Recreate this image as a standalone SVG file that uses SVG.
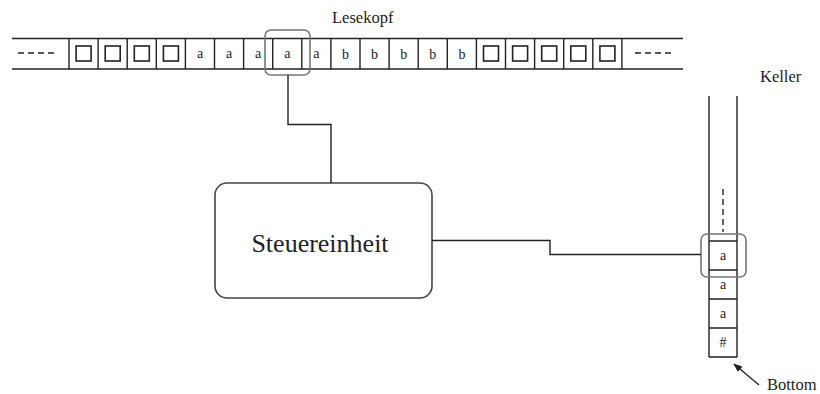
<svg xmlns="http://www.w3.org/2000/svg" width="820" height="394" viewBox="0 0 820 394">
  <style>
    .ln { stroke: #222; stroke-width: 1.4; fill: none; }
    .dash { stroke: #222; stroke-width: 1.4; stroke-dasharray: 6 4; fill: none; }
    .blank { stroke: #222; stroke-width: 1.6; fill: none; }
    .head { stroke: #777; stroke-width: 1.6; fill: none; }
    .box { stroke: #444; stroke-width: 1.6; fill: #fff; }
    .sym { font-family: "Liberation Serif", "DejaVu Serif", serif; font-size: 14px; fill: #222; text-anchor: middle; }
    .lbl { font-family: "Liberation Serif", "DejaVu Serif", serif; font-size: 16.5px; fill: #222; }
    .big { font-family: "Liberation Serif", "DejaVu Serif", serif; font-size: 26px; fill: #222; text-anchor: middle; }
  </style>
  <defs>
    <rect id="sq" x="-7.5" y="-7.5" width="15" height="15" class="blank"/>
    <marker id="arr" viewBox="0 0 10 10" refX="9" refY="5" markerWidth="9" markerHeight="9" orient="auto" markerUnits="userSpaceOnUse">
      <path d="M0,1 L10,5 L0,9 z" fill="#222"/>
    </marker>
  </defs>
  <rect width="820" height="394" fill="#fff"/>

  <!-- input tape -->
  <g id="tape">
    <line class="ln" x1="12" y1="38.5" x2="683" y2="38.5"/>
    <line class="ln" x1="12" y1="69" x2="683" y2="69"/>
    <line class="dash" x1="18" y1="53" x2="56" y2="53"/>
    <line class="dash" x1="635" y1="53" x2="675" y2="53"/>
    <path class="ln" d="M69,38.5V69 M98.1,38.5V69 M127.2,38.5V69 M156.3,38.5V69 M185.4,38.5V69 M214.5,38.5V69 M243.6,38.5V69 M272.7,38.5V69 M301.8,38.5V69 M330.9,38.5V69 M360,38.5V69 M389.1,38.5V69 M418.2,38.5V69 M447.3,38.5V69 M476.4,38.5V69 M505.5,38.5V69 M534.6,38.5V69 M563.7,38.5V69 M592.8,38.5V69 M621.9,38.5V69"/>
    <use href="#sq" x="83.6" y="53.5"/>
    <use href="#sq" x="112.7" y="53.5"/>
    <use href="#sq" x="141.8" y="53.5"/>
    <use href="#sq" x="170.9" y="53.5"/>
    <text class="sym" x="200" y="58">a</text>
    <text class="sym" x="229.1" y="58">a</text>
    <text class="sym" x="258.2" y="58">a</text>
    <text class="sym" x="287.3" y="58">a</text>
    <text class="sym" x="316.4" y="58">a</text>
    <text class="sym" x="345.5" y="59">b</text>
    <text class="sym" x="374.6" y="59">b</text>
    <text class="sym" x="403.7" y="59">b</text>
    <text class="sym" x="432.8" y="59">b</text>
    <text class="sym" x="461.9" y="59">b</text>
    <use href="#sq" x="491" y="53.5"/>
    <use href="#sq" x="520.1" y="53.5"/>
    <use href="#sq" x="549.2" y="53.5"/>
    <use href="#sq" x="578.3" y="53.5"/>
    <use href="#sq" x="607.4" y="53.5"/>
  </g>

  <!-- read head on the tape -->
  <g id="lesekopf">
    <rect class="head" x="265" y="30" width="45" height="45" rx="6"/>
    <text class="lbl" x="332" y="23">Lesekopf</text>
  </g>

  <!-- control unit -->
  <g id="steuereinheit">
    <rect class="box" x="215" y="183" width="217" height="115" rx="12"/>
    <text class="big" x="320" y="252">Steuereinheit</text>
  </g>

  <!-- pushdown store -->
  <g id="keller">
    <text class="lbl" x="760" y="82">Keller</text>
    <line class="ln" x1="709" y1="96" x2="709" y2="357"/>
    <line class="ln" x1="737" y1="96" x2="737" y2="357"/>
    <line class="dash" x1="723" y1="189" x2="723" y2="232" stroke-dasharray="7 5"/>
    <path class="ln" d="M709,241H737 M709,270H737 M709,299H737 M709,328H737 M709,357H737"/>
    <text class="sym" x="723" y="260">a</text>
    <text class="sym" x="723" y="289">a</text>
    <text class="sym" x="723" y="318">a</text>
    <text class="sym" x="723" y="347">#</text>
    <rect class="head" x="701" y="234" width="45" height="43" rx="6"/>
  </g>

  <!-- bottom-of-stack label -->
  <g id="bottom">
    <line class="ln" x1="759" y1="385" x2="734" y2="364" marker-end="url(#arr)"/>
    <text class="lbl" x="767" y="390">Bottom</text>
  </g>

  <!-- connectors -->
  <g id="connectors">
    <polyline class="ln" points="288,75 288,124.5 331,124.5 331,183"/>
    <polyline class="ln" points="432,240.5 550,240.5 550,254.5 701,254.5"/>
  </g>
</svg>
